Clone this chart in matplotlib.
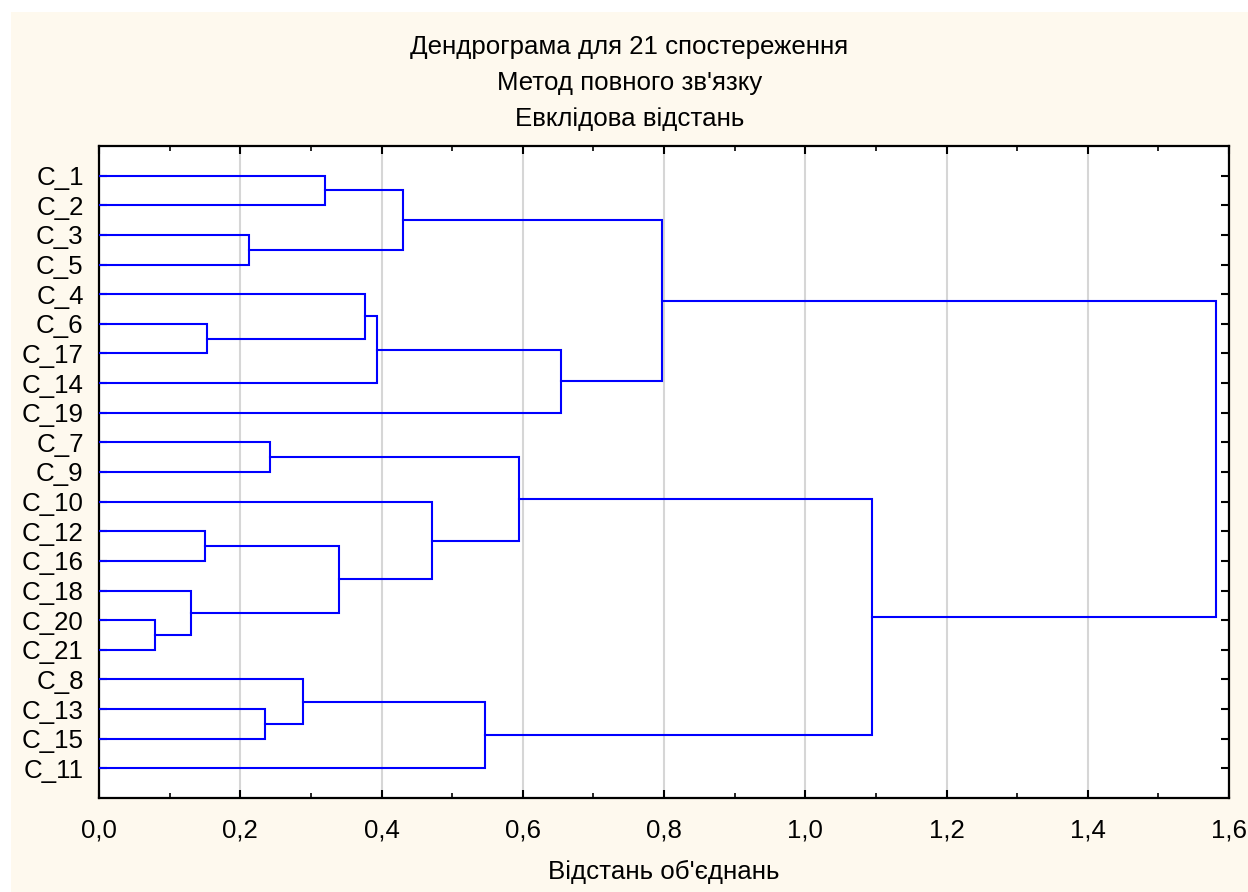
import matplotlib
matplotlib.use("Agg")
import matplotlib.pyplot as plt
from matplotlib.ticker import MultipleLocator, FuncFormatter
from matplotlib.patches import Rectangle

# ---- data ----
leaves = ["C_1", "C_2", "C_3", "C_5", "C_4", "C_6", "C_17", "C_14", "C_19",
          "C_7", "C_9", "C_10", "C_12", "C_16", "C_18", "C_20", "C_21",
          "C_8", "C_13", "C_15", "C_11"]
# merges: children (leaf name or "#k" for k-th merge) and linkage distance
merge_left = ["C_1", "C_3", "#0", "C_6", "C_4", "#4", "#5", "#2",
              "C_7", "C_12", "C_20", "C_18", "#9", "C_10", "#8",
              "C_13", "C_8", "#16", "#14", "#7"]
merge_right = ["C_2", "C_5", "#1", "C_17", "#3", "C_14", "C_19", "#6",
               "C_9", "C_16", "C_21", "#10", "#11", "#12", "#13",
               "C_15", "#15", "C_11", "#17", "#18"]
merge_height = [0.320, 0.212, 0.430, 0.153, 0.376, 0.393, 0.654, 0.797,
                0.242, 0.150, 0.079, 0.130, 0.340, 0.471, 0.595,
                0.235, 0.289, 0.546, 1.095, 1.581]

title_lines = ["Дендрограма для 21 спостереження",
               "Метод повного зв'язку",
               "Евклідова відстань"]
xlabel = "Відстань об'єднань"

# ---- figure ----
plt.rcParams['font.family'] = ['Liberation Sans', 'DejaVu Sans']
W, H = 1248, 892
fig = plt.figure(figsize=(W / 100, H / 100), dpi=100, facecolor='white')
cream = '#FEF9EE'
fig.patches.append(Rectangle((11 / W, 0), 1 - 11 / W, 1 - 12 / H,
                             transform=fig.transFigure, facecolor=cream,
                             edgecolor='none', zorder=-10))

left, right, top, bottom = 99, 1229, 146, 798
ax = fig.add_axes([left / W, 1 - bottom / H, (right - left) / W, (bottom - top) / H])
ax.set_facecolor('white')

pos = {name: (0.0, i + 1) for i, name in enumerate(leaves)}
lw = 1.5
col = '#0000FF'
for k, (a, b, h) in enumerate(zip(merge_left, merge_right, merge_height)):
    xa, ya = pos[a]
    xb, yb = pos[b]
    ax.plot([xa, h, h, xb], [ya, ya, yb, yb], color=col, lw=lw,
            solid_joinstyle='miter', zorder=3)
    pos["#%d" % k] = (h, (ya + yb) / 2)

ax.set_xlim(0, 1.6)
ax.set_ylim(len(leaves) + 1, 0)
ax.set_yticks(range(1, len(leaves) + 1))
ax.set_yticklabels(leaves)
ax.xaxis.set_major_locator(MultipleLocator(0.2))
ax.xaxis.set_minor_locator(MultipleLocator(0.1))
ax.xaxis.set_major_formatter(FuncFormatter(lambda v, p: ("%.1f" % v).replace('.', ',')))
ax.grid(axis='x', which='major', color='#D6D6D6', lw=1.5, zorder=1)
ax.set_axisbelow(True)

fs = 18.6
ax.tick_params(axis='both', which='major', direction='in', length=6, width=1.5,
               top=True, right=True, labelsize=fs, colors='black')
ax.tick_params(axis='x', which='minor', direction='in', length=3.5, width=1.2,
               top=True, bottom=True)
ax.tick_params(axis='x', which='major', pad=15)
ax.tick_params(axis='y', which='major', pad=11)
for s in ax.spines.values():
    s.set_linewidth(1.6)
    s.set_color('black')

cx = 629.5 / W
for i, t in enumerate(title_lines):
    fig.text(cx, 1 - (47 + 36 * i) / H, t, ha='center', va='center', fontsize=fs)
fig.text(664 / W, 1 - 872 / H, xlabel, ha='center', va='center', fontsize=fs)

fig.savefig("out.png", dpi=100, facecolor=fig.get_facecolor())
